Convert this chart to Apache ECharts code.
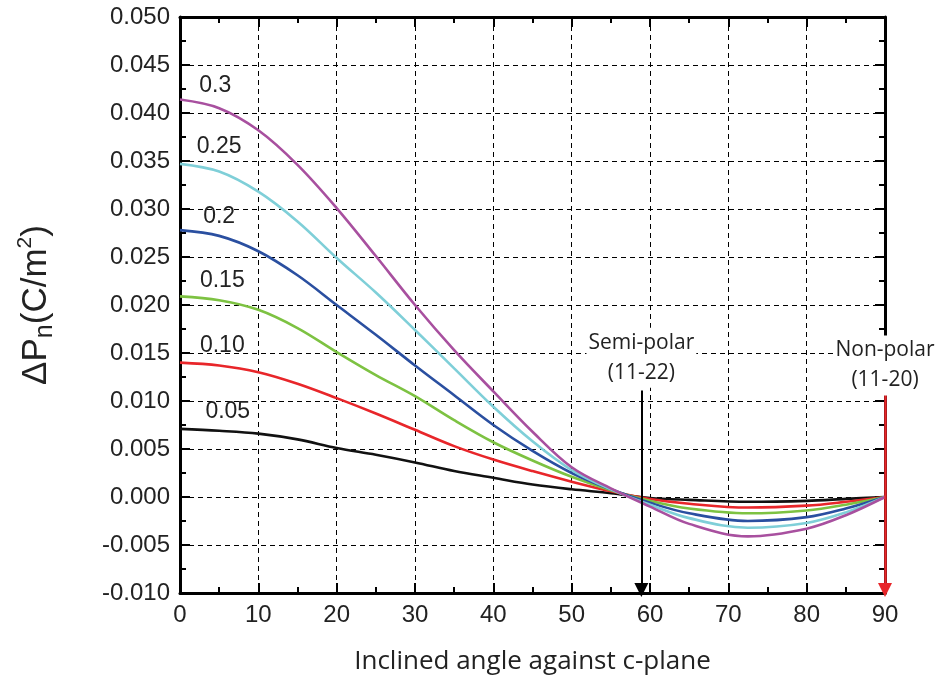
<!DOCTYPE html>
<html>
<head>
<meta charset="utf-8">
<script src="https://cdn.jsdelivr.net/npm/echarts@6/dist/echarts.min.js"></script>
<style>
  html, body { margin: 0; padding: 0; background: #fff; }
  #chart { width: 944px; height: 683px; }
</style>
</head>
<body>
<div id="chart"></div>
<script>
// inclined angle (deg); 72.5 is where the curves bottom out
const angles = [0, 5, 10, 15, 20, 25, 30, 35, 40, 45, 50, 55, 60, 65, 72.5, 80, 85, 90];

// delta Pn (C/m^2) for each composition
const p005 = [0.0071, 0.0069, 0.0066, 0.0060, 0.0051, 0.0044, 0.0036, 0.0027, 0.0020, 0.0013, 0.0008, 0.0004, -0.0001, -0.0003, -0.0005, -0.0004, -0.0002, 0];
const p010 = [0.0140, 0.0137, 0.0130, 0.0118, 0.0103, 0.0087, 0.0070, 0.0053, 0.0039, 0.0027, 0.0016, 0.0006, -0.0002, -0.0007, -0.0011, -0.0009, -0.0005, 0];
const p015 = [0.0209, 0.0205, 0.0195, 0.0176, 0.0151, 0.0127, 0.0105, 0.0080, 0.0057, 0.0038, 0.0021, 0.0007, -0.0004, -0.0012, -0.0017, -0.0014, -0.0008, 0];
const p020 = [0.0278, 0.0272, 0.0256, 0.0231, 0.0200, 0.0169, 0.0137, 0.0106, 0.0075, 0.0048, 0.0025, 0.0008, -0.0006, -0.0017, -0.0025, -0.0021, -0.0012, 0];
const p025 = [0.0347, 0.0339, 0.0318, 0.0287, 0.0249, 0.0213, 0.0174, 0.0134, 0.0094, 0.0058, 0.0028, 0.0008, -0.0008, -0.0022, -0.0032, -0.0027, -0.0016, 0];
const p030 = [0.0414, 0.0405, 0.0382, 0.0346, 0.0301, 0.0251, 0.0200, 0.0153, 0.0110, 0.0068, 0.0031, 0.0009, -0.0010, -0.0028, -0.0041, -0.0033, -0.0019, 0];

const seriesNames = ["0.05", "0.10", "0.15", "0.2", "0.25", "0.3"];
const seriesData = [p005, p010, p015, p020, p025, p030];
const colors = ["#111111", "#e8262a", "#7dc242", "#2a4fa0", "#7fcfd8", "#a8509f"];
// where each composition label sits: [angle, value]
const labelPos = [[6.1, 0.0089], [5.4, 0.0158], [5.4, 0.0225], [5.0, 0.0292], [5.0, 0.0365], [4.5, 0.0429]];

const semiPolarAngle = 58.9;
const nonPolarAngle = 90;

const font = "Liberation Sans";
const myChart = echarts.init(document.getElementById("chart"));

const frameAxis = {
  axisLine: { show: true, onZero: false, lineStyle: { color: "#000", width: 3 } },
  axisTick: { show: true, inside: true, length: 10, lineStyle: { color: "#000", width: 2 } },
  minorTick: { show: true, splitNumber: 2, length: 6, lineStyle: { color: "#000", width: 2 } },
};

// invisible anchor for free text placed in data coordinates
const textAnchor = { symbol: "circle", symbolSize: 1, itemStyle: { color: "rgba(0,0,0,0)" } };
const noteLabel = (text) => ({
  show: true, position: "inside", formatter: text,
  fontFamily: "Open Sans", fontSize: 21, color: "#222", lineHeight: 30,
  backgroundColor: "#fff", padding: [0, 2],
});

option = {
  animation: false,
  backgroundColor: "#fff",
  grid: { left: 180, right: 59, top: 17, bottom: 90 },
  xAxis: [
    {
      type: "value", min: 0, max: 90, interval: 10, position: "bottom",
      name: "Inclined angle against c-plane",
      nameLocation: "middle", nameGap: 56,
      nameTextStyle: { fontFamily: "Open Sans", fontSize: 26, color: "#222" },
      axisLabel: { fontFamily: font, fontSize: 24, color: "#222", margin: 10 },
      splitLine: { show: true, lineStyle: { color: "#000", type: [5, 4], width: 1 } },
      ...frameAxis,
    },
    {
      type: "value", min: 0, max: 90, interval: 10, position: "top",
      axisLabel: { show: false }, splitLine: { show: false },
      ...frameAxis,
    },
  ],
  yAxis: [
    {
      type: "value", min: -0.01, max: 0.05, interval: 0.005, position: "left",
      name: "{a|ΔP}{sub|n}{a|(C/m}{sup|2}{a|)}",
      nameLocation: "middle", nameGap: 122, nameRotate: 90,
      nameTextStyle: {
        rich: {
          a: { fontFamily: font, fontSize: 35, color: "#222" },
          sub: { fontFamily: font, fontSize: 25, color: "#222", verticalAlign: "bottom", padding: [18, 0, 0, 0] },
          sup: { fontFamily: font, fontSize: 21, color: "#222", verticalAlign: "top", padding: [0, 0, 16, 0] },
        },
      },
      axisLabel: {
        fontFamily: font, fontSize: 24, color: "#222", margin: 10,
        formatter: (v) => v.toFixed(3),
      },
      splitLine: { show: true, lineStyle: { color: "#000", type: [5, 4], width: 1 } },
      ...frameAxis,
    },
    {
      type: "value", min: -0.01, max: 0.05, interval: 0.005, position: "right",
      axisLabel: { show: false }, splitLine: { show: false },
      ...frameAxis,
    },
  ],
  series: [],
};

seriesNames.forEach((name, i) => {
  option.series.push({
    name: name,
    type: "line",
    smooth: 0.35,
    showSymbol: false,
    data: angles.map((a, j) => [a, seriesData[i][j]]),
    lineStyle: { color: colors[i], width: 2.6 },
    itemStyle: { color: colors[i] },
    markPoint: {
      ...textAnchor,
      label: { show: true, position: "inside", formatter: name, fontFamily: font, fontSize: 23, color: "#222" },
      data: [{ coord: labelPos[i] }],
    },
  });
});

// arrows and their notes
option.series.push({
  type: "line",
  data: [],
  clip: false,
  markLine: {
    silent: true,
    symbol: ["none", "triangle"],
    symbolSize: [14, 14],
    label: { show: false },
    data: [
      [{ coord: [semiPolarAngle, 0.0111], lineStyle: { color: "#000", width: 2, type: "solid" }, itemStyle: { color: "#000" } },
       { coord: [semiPolarAngle, -0.0097] }],
      [{ coord: [nonPolarAngle, 0.0108], lineStyle: { color: "#e8262a", width: 2.5, type: "solid" }, itemStyle: { color: "#e8262a" } },
       { coord: [nonPolarAngle, -0.0097] }],
    ],
  },
  markPoint: {
    ...textAnchor,
    data: [
      { coord: [semiPolarAngle, 0.0145], label: noteLabel("Semi-polar\n(11-22)") },
      { coord: [nonPolarAngle, 0.0137], label: noteLabel("Non-polar\n(11-20)") },
    ],
  },
});

option && myChart.setOption(option);
</script>
</body>
</html>
